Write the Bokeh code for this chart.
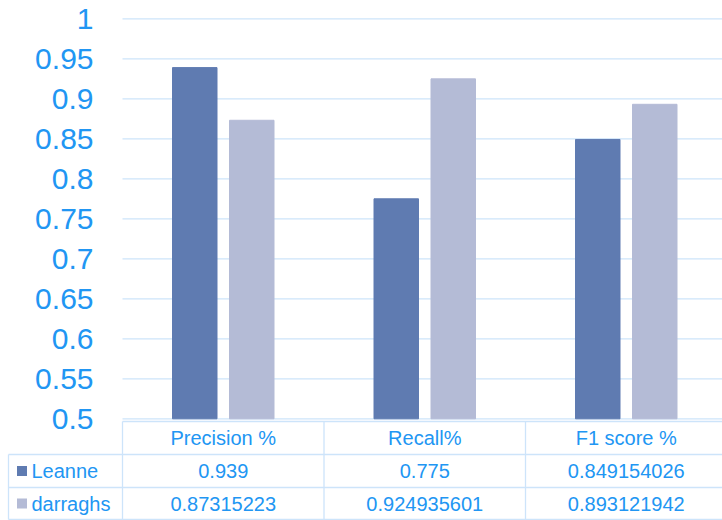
from bokeh.plotting import figure
from bokeh.models import Range1d, FixedTicker, CustomJSTickFormatter, ColumnDataSource, LinearAxis
from bokeh.core.properties import value
from bokeh.embed import file_html
from bokeh.resources import INLINE

# ---- data ----
categories = ["Precision %", "Recall%", "F1 score %"]
series = ["Leanne", "darraghs"]
leanne = [0.939, 0.775, 0.849154026]
darraghs = [0.87315223, 0.924935601, 0.893121942]
leanne_text = ["0.939", "0.775", "0.849154026"]
darraghs_text = ["0.87315223", "0.924935601", "0.893121942"]
y_ticks = [0.5, 0.55, 0.6, 0.65, 0.7, 0.75, 0.8, 0.85, 0.9, 0.95, 1.0]

# ---- style ----
FONT = "Liberation Sans"
TEXT_BLUE = "#2196F3"
GRID_BLUE = "#CDE4FA"
COLORS = ["#5F7BB1", "#B4BBD6"]

W, H = 722, 520
LEFT = 122            # pixel where the value area and the table columns begin
CAT_PX = 201.5        # pixel width of one category
PX_PER_UNIT = 40 / 0.05
Y_ONE_PX = 18.3       # pixel row of the value 1.0


def px_y(py):
    """Convert a pixel row into the value scale used on the y axis."""
    return 1.0 - (py - Y_ONE_PX) / PX_PER_UNIT


def px_x(px):
    """Convert a pixel column into category units."""
    return (px - LEFT) / CAT_PX


p = figure(width=W, height=H, x_range=Range1d(px_x(0), px_x(W)),
           y_range=Range1d(px_y(H), px_y(0)), output_backend="svg",
           toolbar_location=None, x_axis_location=None, y_axis_location=None,
           min_border=0)
p.outline_line_color = None
p.xgrid.visible = False
p.ygrid.visible = False

# ---- value axis, placed at the start of the category area ----
ticker = FixedTicker(ticks=y_ticks)
yax = LinearAxis(fixed_location=0, ticker=ticker,
                 formatter=CustomJSTickFormatter(code="return String(+tick.toFixed(2));"))
yax.axis_line_color = None
yax.major_tick_line_color = None
yax.minor_tick_line_color = None
yax.major_tick_in = 0
yax.major_tick_out = 0
yax.major_label_standoff = 29
yax.major_label_text_font = FONT
yax.major_label_text_font_size = "30px"
yax.major_label_text_color = TEXT_BLUE
p.add_layout(yax, "left")

n = len(categories)
# horizontal gridlines over the category area only
p.segment(x0=[0] * len(y_ticks), x1=[n] * len(y_ticks), y0=y_ticks, y1=y_ticks,
          line_color=GRID_BLUE, line_width=1.3)

# ---- bars ----
xc = [i + 0.5 for i in range(n)]
off = 28.5 / CAT_PX
bw = 44.5 / CAT_PX
src = ColumnDataSource(dict(
    xl=[x - off for x in xc], xd=[x + off for x in xc],
    leanne=leanne, darraghs=darraghs))
base = y_ticks[0]
p.vbar(x="xl", top="leanne", bottom=base, width=bw, source=src,
       fill_color=COLORS[0], line_color=COLORS[0])
p.vbar(x="xd", top="darraghs", bottom=base, width=bw, source=src,
       fill_color=COLORS[1], line_color=COLORS[1])

# ---- data table below the bars ----
row_tops = [px_y(421), px_y(454), px_y(487)]
row_bottom = px_y(519)
row_mid = [(row_tops[0] + row_tops[1]) / 2,
           (row_tops[1] + row_tops[2]) / 2,
           (row_tops[2] + row_bottom) / 2]
x_left = px_x(8)

x0s, y0s, x1s, y1s = [], [], [], []
x0s.append(0); y0s.append(row_tops[0]); x1s.append(n); y1s.append(row_tops[0])
for i in range(n + 1):
    x0s.append(i); y0s.append(row_tops[0]); x1s.append(i); y1s.append(row_bottom)
x0s.append(x_left); y0s.append(row_tops[1]); x1s.append(x_left); y1s.append(row_bottom)
for yy in (row_tops[1], row_tops[2], row_bottom):
    x0s.append(x_left); y0s.append(yy); x1s.append(n); y1s.append(yy)
p.segment(x0=x0s, y0=y0s, x1=x1s, y1=y1s, line_color=GRID_BLUE, line_width=1.3)

txt = dict(text_font=value(FONT), text_font_size="20px", text_color=TEXT_BLUE,
           text_baseline="middle")
p.text(x=xc, y=[row_mid[0]] * n, text=categories, text_align="center", **txt)
p.text(x=xc, y=[row_mid[1]] * n, text=leanne_text, text_align="center", **txt)
p.text(x=xc, y=[row_mid[2]] * n, text=darraghs_text, text_align="center", **txt)

key_x = px_x(21.5)
lab_x = px_x(31)
p.scatter(x=[key_x, key_x], y=row_mid[1:], marker="square", size=10,
          fill_color=COLORS, line_color=None)
p.text(x=[lab_x, lab_x], y=row_mid[1:], text=series, text_align="left", **txt)

open("out.html", "w").write(file_html(p, INLINE))
